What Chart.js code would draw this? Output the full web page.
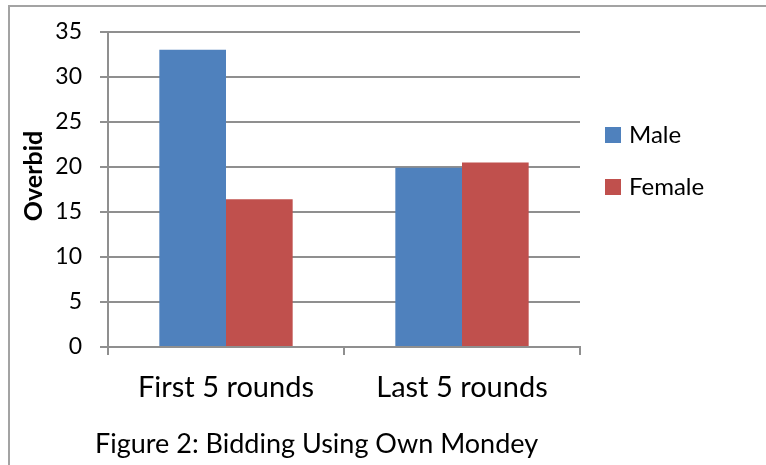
<!DOCTYPE html>
<html>
<head>
<meta charset="utf-8">
<script src="https://cdn.jsdelivr.net/npm/chart.js@4/dist/chart.umd.min.js"></script>
<style>
  html, body { margin: 0; padding: 0; background: #ffffff; }
  #wrap { width: 766px; height: 465px; }
</style>
</head>
<body>
<div id="wrap"><canvas id="chart" width="766" height="465"></canvas></div>
<script>
// Overbid by gender, first vs. last five rounds
const categories = ['First 5 rounds', 'Last 5 rounds'];
const seriesNames = ['Male', 'Female'];
const maleOverbid = [33, 19.9];
const femaleOverbid = [16.4, 20.5];
const yAxisTitle = 'Overbid';
const caption = 'Figure 2: Bidding Using Own Mondey';

const seriesColors = ['#4f81bd', '#c0504d'];
const gridColor = '#8f8f8f';
const fontFamily = 'Lato, "Open Sans", sans-serif';

// Frame, rotated axis title, legend and caption drawn around the plot
const decorations = {
  id: 'decorations',
  beforeDraw(chart) {
    const ctx = chart.ctx;
    ctx.save();
    ctx.strokeStyle = '#a3a3a3';
    ctx.lineWidth = 2;
    ctx.strokeRect(9, 6, 800, 500);
    ctx.restore();
  },
  afterDraw(chart) {
    const ctx = chart.ctx;
    ctx.save();
    ctx.fillStyle = '#000000';

    // y-axis title
    ctx.save();
    ctx.translate(41.5, 176);
    ctx.rotate(-Math.PI / 2);
    ctx.font = 'bold 25px ' + fontFamily;
    ctx.textAlign = 'center';
    ctx.textBaseline = 'alphabetic';
    ctx.fillText(yAxisTitle, 0, 0);
    ctx.restore();

    // legend
    ctx.font = '24px ' + fontFamily;
    ctx.textAlign = 'left';
    ctx.textBaseline = 'alphabetic';
    chart.data.datasets.forEach((ds, i) => {
      const top = 127 + i * 52;
      ctx.fillStyle = ds.backgroundColor;
      ctx.fillRect(605, top, 16, 16);
      ctx.fillStyle = '#000000';
      ctx.fillText(ds.label, 629, top + 15.5);
    });

    // caption
    ctx.font = '27px ' + fontFamily;
    ctx.fillText(caption, 95, 453);
    ctx.restore();
  }
};

new Chart(document.getElementById('chart'), {
  type: 'bar',
  data: {
    labels: categories,
    datasets: [
      { label: seriesNames[0], data: maleOverbid, backgroundColor: seriesColors[0] },
      { label: seriesNames[1], data: femaleOverbid, backgroundColor: seriesColors[1] }
    ]
  },
  options: {
    responsive: false,
    animation: false,
    events: [],
    layout: { padding: { top: 29, right: 186, bottom: 0, left: 0 } },
    datasets: {
      bar: { categoryPercentage: 0.565, barPercentage: 1.0, borderWidth: 0 }
    },
    plugins: {
      legend: { display: false },
      title: { display: false },
      tooltip: { enabled: false }
    },
    scales: {
      x: {
        afterFit(scale) { scale.height = 118; },
        grid: {
          drawOnChartArea: false,
          drawTicks: true,
          tickLength: 8,
          color: gridColor,
          lineWidth: 2
        },
        border: { display: true, color: gridColor, width: 2 },
        ticks: {
          color: '#000000',
          padding: 15,
          font: { family: fontFamily, size: 29 },
          maxRotation: 0
        }
      },
      y: {
        min: 0,
        max: 35,
        afterFit(scale) { scale.width = 108; },
        grid: {
          color: gridColor,
          lineWidth: 2,
          drawTicks: true,
          tickLength: 8
        },
        border: { display: true, color: gridColor, width: 2 },
        ticks: {
          stepSize: 5,
          color: '#000000',
          padding: 18,
          font: { family: fontFamily, size: 23 }
        }
      }
    }
  },
  plugins: [decorations]
});
</script>
</body>
</html>
